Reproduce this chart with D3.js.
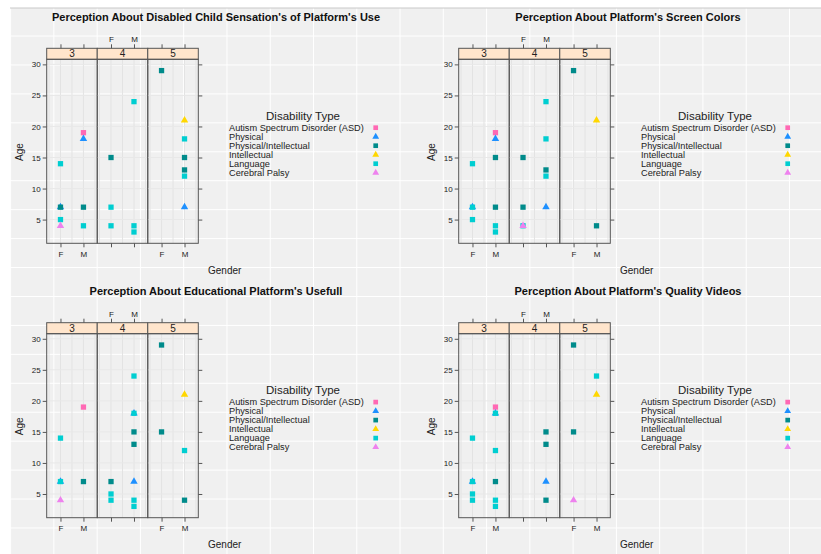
<!DOCTYPE html>
<html>
<head>
<meta charset="utf-8">
<script src="https://cdn.jsdelivr.net/npm/d3@7"></script>
<style>
  html, body { margin: 0; padding: 0; background: #fff; }
  svg { display: block; font-family: "Liberation Sans", Arial, sans-serif; }
</style>
</head>
<body>
<svg id="chart" width="821" height="554"></svg>
<script>
// ---------- data ----------
const TYPES = ["Autism Spectrum Disorder (ASD)", "Physical", "Physical/Intellectual",
               "Intellectual", "Language", "Cerebral Palsy"];
const TYPE_COLORS = ["#FF69B4", "#1E90FF", "#008B8B", "#FFD700", "#00CED1", "#EE82EE"];
const TYPE_SHAPES = ["square", "triangle", "square", "triangle", "square", "triangle"];
const RATINGS = ["3", "4", "5"];
const GENDERS = ["F", "M"];
const Y_TICKS = [5, 10, 15, 20, 25, 30];
const TITLES = [
  "Perception About Disabled Child Sensation's of Platform's Use",
  "Perception About Platform's Screen Colors",
  "Perception About Educational Platform's Usefull",
  "Perception About Platform's Quality Videos"
];
// [rating, gender, age, type index]
const sensation = [
  ["3","F",14,4],["3","F",7,1],["3","F",7,2],["3","F",5,4],["3","F",4,5],
  ["3","M",19,0],["3","M",18,1],["3","M",7,2],["3","M",4,4],
  ["4","F",15,2],["4","F",7,4],["4","F",4,4],
  ["4","M",24,4],["4","M",4,4],["4","M",3,4],
  ["5","F",29,2],
  ["5","M",21,3],["5","M",18,4],["5","M",15,2],["5","M",13,2],["5","M",12,4],["5","M",7,1]
];
const screenColors = [
  ["3","F",14,4],["3","F",7,1],["3","F",7,4],["3","F",5,4],
  ["3","M",19,0],["3","M",18,1],["3","M",15,2],["3","M",7,2],["3","M",4,4],["3","M",3,4],
  ["4","F",15,2],["4","F",7,2],["4","F",4,4],["4","F",4,5],
  ["4","M",24,4],["4","M",18,4],["4","M",13,2],["4","M",12,4],["4","M",7,1],
  ["5","F",29,2],
  ["5","M",21,3],["5","M",4,2]
];
const usefulness = [
  ["3","F",14,4],["3","F",7,1],["3","F",7,4],["3","F",4,5],
  ["3","M",19,0],["3","M",7,2],
  ["4","F",7,2],["4","F",5,4],["4","F",4,4],
  ["4","M",24,4],["4","M",18,1],["4","M",18,4],["4","M",15,2],["4","M",13,2],["4","M",7,1],["4","M",4,4],["4","M",3,4],
  ["5","F",29,2],["5","F",15,2],
  ["5","M",21,3],["5","M",12,4],["5","M",4,2]
];
const qualityVideos = [
  ["3","F",14,4],["3","F",7,1],["3","F",7,4],["3","F",5,4],["3","F",4,4],
  ["3","M",19,0],["3","M",18,1],["3","M",18,4],["3","M",12,4],["3","M",7,2],["3","M",4,4],["3","M",3,4],
  ["4","M",15,2],["4","M",13,2],["4","M",7,1],["4","M",4,2],
  ["5","F",29,2],["5","F",15,2],["5","F",4,5],
  ["5","M",24,4],["5","M",21,3]
];
const DATASETS = [sensation, screenColors, usefulness, qualityVideos];

// ---------- drawing ----------
const svg = d3.select("#chart");
const W = 821, H = 554;

// page background with grid
svg.append("rect").attr("x", 10).attr("y", 8).attr("width", W - 10).attr("height", H - 8)
  .attr("fill", "#F0F0F0");
const bgX = d3.range(0, 19).map(k => 10.6 + 43.27 * k);
const bgY = d3.range(0, 18).map(k => 36 + 28.94 * k);
svg.append("g").selectAll("line.bv").data(bgX).join("line")
  .attr("x1", d => d).attr("x2", d => d).attr("y1", 8).attr("y2", H)
  .attr("stroke", "#fff").attr("stroke-width", 1);
svg.append("g").selectAll("line.bh").data(bgY).join("line")
  .attr("x1", 10).attr("x2", W).attr("y1", d => d).attr("y2", d => d)
  .attr("stroke", "#fff").attr("stroke-width", 1);
svg.append("line").attr("x1", 10).attr("x2", W).attr("y1", 8).attr("y2", 8)
  .attr("stroke", "#C8C8C8").attr("stroke-width", 1);

const symbol = (shape, size) => d3.symbol()
  .type(shape === "square" ? d3.symbolSquare : d3.symbolTriangle)
  .size(size)();

const AXIS_COL = "#555";
const TEXT_COL = "#222";

function drawPlot(g, data, title) {
  const left = 46.7, right = 198.3, stripTop = 48.3, stripH = 11,
        panelTop = stripTop + stripH, panelBottom = 243.3;
  const pw = (right - left) / RATINGS.length;

  // y scale with lattice-like 7% extension
  const ext = d3.extent(data, d => d[2]);
  const pad = (ext[1] - ext[0]) * 0.07;
  const y = d3.scaleLinear().domain([ext[0] - pad, ext[1] + pad]).range([panelBottom, panelTop]);

  // title
  g.append("text").attr("x", 216).attr("y", 20.5).attr("text-anchor", "middle")
    .attr("font-size", 11).attr("font-weight", "bold").attr("fill", "#111").text(title);

  RATINGS.forEach((r, i) => {
    const x0 = left + i * pw, x1 = x0 + pw;
    const x = d3.scalePoint().domain(GENDERS).range([x0, x1]).padding(0.6);
    const xl = d3.scaleLinear().domain([0.4, 2.6]).range([x0, x1]);
    const pg = g.append("g");

    // panel grid
    pg.selectAll("line.gv").data([0.5, 1, 1.5, 2, 2.5]).join("line")
      .attr("x1", d => xl(d)).attr("x2", d => xl(d)).attr("y1", panelTop).attr("y2", panelBottom)
      .attr("stroke", "#E3E3E3").attr("stroke-width", 1);
    pg.selectAll("line.gh").data(Y_TICKS).join("line")
      .attr("x1", x0).attr("x2", x1).attr("y1", d => y(d)).attr("y2", d => y(d))
      .attr("stroke", "#E8E8E8").attr("stroke-width", 1);

    // strip
    pg.append("rect").attr("x", x0).attr("y", stripTop).attr("width", pw).attr("height", stripH)
      .attr("fill", "#FFE5CC").attr("stroke", AXIS_COL).attr("stroke-width", 1);
    pg.append("text").attr("x", (x0 + x1) / 2).attr("y", stripTop + stripH / 2 + 3.5)
      .attr("text-anchor", "middle").attr("font-size", 10).attr("fill", TEXT_COL).text(r);

    // points, drawn in group order
    const pts = data.filter(d => d[0] === r).slice().sort((a, b) => a[3] - b[3]);
    pg.selectAll("path.pt").data(pts).join("path")
      .attr("d", d => symbol(TYPE_SHAPES[d[3]], TYPE_SHAPES[d[3]] === "square" ? 28 : 24))
      .attr("transform", d => `translate(${x(d[1])},${y(d[2])})`)
      .attr("fill", d => TYPE_COLORS[d[3]]);

    // panel border
    pg.append("rect").attr("x", x0).attr("y", panelTop).attr("width", pw)
      .attr("height", panelBottom - panelTop).attr("fill", "none")
      .attr("stroke", AXIS_COL).attr("stroke-width", 1);

    // x axes: top ticks always, labels on top for middle panel; bottom labels for outer panels
    const topAx = d3.axisTop(x).tickSize(4).tickPadding(2)
      .tickFormat(i === 1 ? (d => d) : () => "");
    const tg = pg.append("g").attr("transform", `translate(0,${stripTop})`).call(topAx);
    const botAx = d3.axisBottom(x).tickSize(4).tickPadding(4)
      .tickFormat(i !== 1 ? (d => d) : () => "");
    const bg = pg.append("g").attr("transform", `translate(0,${panelBottom})`).call(botAx);
    [tg, bg].forEach(a => {
      a.select(".domain").remove();
      a.selectAll("line").attr("stroke", AXIS_COL);
      a.selectAll("text").attr("font-size", 8).attr("fill", TEXT_COL)
        .attr("font-family", "Liberation Sans, Arial, sans-serif");
    });
  });

  // y axes
  const la = g.append("g").attr("transform", `translate(${left},0)`)
    .call(d3.axisLeft(y).tickValues(Y_TICKS).tickSize(4).tickPadding(2));
  const ra = g.append("g").attr("transform", `translate(${right},0)`)
    .call(d3.axisRight(y).tickValues(Y_TICKS).tickSize(4).tickFormat(() => ""));
  [la, ra].forEach(a => {
    a.select(".domain").remove();
    a.selectAll("line").attr("stroke", AXIS_COL);
    a.selectAll("text").attr("font-size", 8).attr("fill", TEXT_COL)
      .attr("font-family", "Liberation Sans, Arial, sans-serif");
  });

  // axis titles
  g.append("text").attr("transform", "translate(22.5,152) rotate(-90)")
    .attr("text-anchor", "middle").attr("font-size", 10).attr("fill", TEXT_COL).text("Age");
  g.append("text").attr("x", 208).attr("y", 273.5)
    .attr("font-size", 10).attr("fill", TEXT_COL).text("Gender");

  // legend
  g.append("text").attr("x", 303).attr("y", 120).attr("text-anchor", "middle")
    .attr("font-size", 11.5).attr("fill", TEXT_COL).text("Disability Type");
  const lg = g.append("g");
  TYPES.forEach((t, k) => {
    const cy = 127.7 + 9 * k;
    lg.append("text").attr("x", 229).attr("y", cy + 3.2).attr("font-size", 9.2)
      .attr("fill", TEXT_COL).text(t);
    lg.append("path").attr("d", symbol(TYPE_SHAPES[k], TYPE_SHAPES[k] === "square" ? 22 : 20))
      .attr("transform", `translate(375.7,${cy})`).attr("fill", TYPE_COLORS[k]);
  });
}

const OFFSETS = [[0, 0], [412, 0], [0, 274.4], [412, 274.4]];
DATASETS.forEach((data, i) => {
  const g = svg.append("g").attr("transform", `translate(${OFFSETS[i][0]},${OFFSETS[i][1]})`);
  drawPlot(g, data, TITLES[i]);
});
</script>
</body>
</html>
